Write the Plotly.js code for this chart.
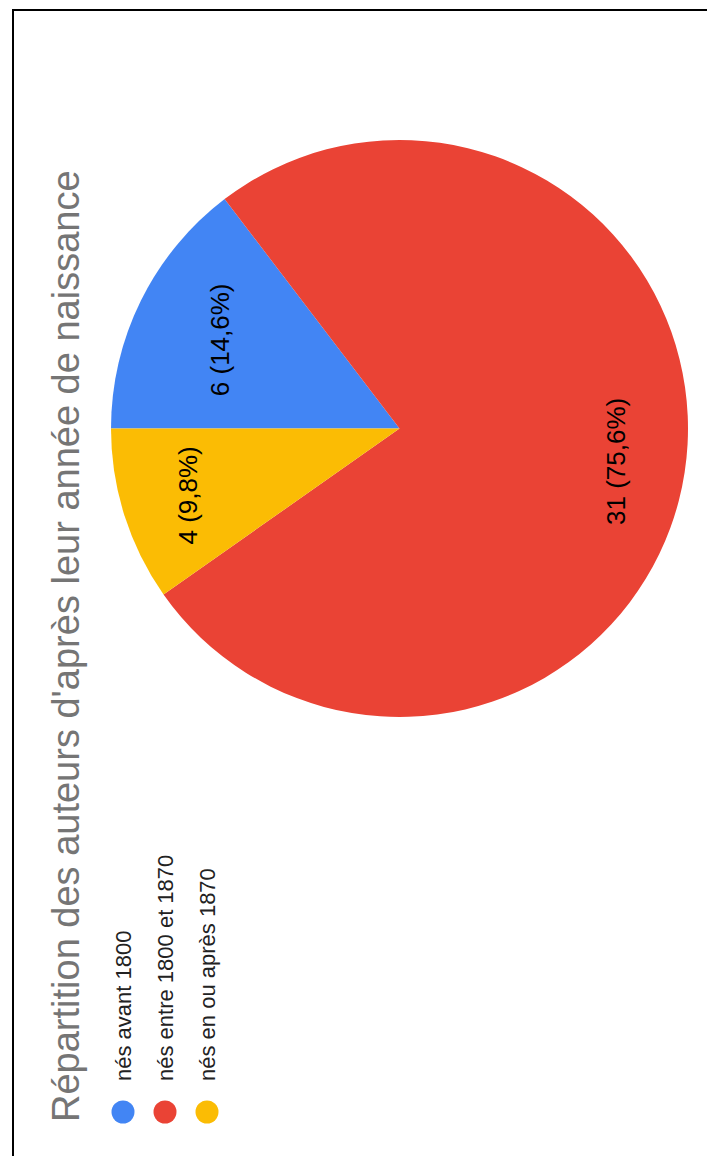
<!DOCTYPE html>
<html>
<head>
<meta charset="utf-8">
<script src="https://cdn.plot.ly/plotly-3.0.1.min.js"></script>
<style>
  html, body { margin: 0; padding: 0; background: #fff; width: 707px; height: 1156px; overflow: hidden; }
  #frame { position: absolute; left: 12px; top: 9px; width: 720px; height: 1170px;
           border-left: 2px solid #000; border-top: 2px solid #000; z-index: 5; pointer-events: none; }
  #chart { position: absolute; left: 0; top: 0; width: 1146px; height: 694px;
           transform-origin: 0 0; transform: translate(13px, 1156px) rotate(-90deg); }
</style>
</head>
<body>
<div id="frame"></div>
<div id="chart"></div>
<script>
// ---- data ----
const categories = ["nés avant 1800", "nés entre 1800 et 1870", "nés en ou après 1870"];
const counts = [6, 31, 4];
const colors = ["#4285F4", "#EA4335", "#FBBC04"];
const chartTitle = "Répartition des auteurs d'après leur année de naissance";

// ---- layout geometry (unrotated frame, pixels) ----
const W = 1146, H = 694;
const FONT = "Liberation Sans, Arial, sans-serif";
const cu = 727.5, cv = 386.5, R = 288.5;       // pie centre & radius
const legendU = 44, legendV0 = 110, legendStep = 42, legendR = 11.5, legendTextU = 73;
const labelRadius = 0.76;                       // Google-style label distance (fraction of radius)

// slices whose label is placed Google-style (mid-angle) instead of by Plotly's fitting
const customLabel = [false, true, false];

const total = counts.reduce((a, b) => a + b, 0);
const fmtPct = v => (100 * v / total).toFixed(1).replace(".", ",") + "%";

const pie = {
  type: "pie",
  labels: categories,
  values: counts,
  marker: { colors: colors, line: { width: 0 } },
  sort: false,
  direction: "clockwise",
  rotation: 0,
  texttemplate: "%{value} (%{percent:.1%})",
  textposition: customLabel.map(c => c ? "none" : "inside"),
  insidetextorientation: "horizontal",
  textfont: { family: FONT, size: 26, color: "#000" },
  hoverinfo: "none",
  showlegend: false,
  domain: {
    x: [(cu - R) / W, (cu + R) / W],
    y: [1 - (cv + R) / H, 1 - (cv - R) / H]
  }
};

const shapes = [], annotations = [];
categories.forEach((c, i) => {
  const v = legendV0 + i * legendStep;
  shapes.push({
    type: "circle", xref: "paper", yref: "paper",
    xsizemode: "pixel", ysizemode: "pixel",
    xanchor: legendU / W, yanchor: 1 - v / H,
    x0: -legendR, x1: legendR, y0: -legendR, y1: legendR,
    fillcolor: colors[i], line: { width: 0 }
  });
  annotations.push({
    xref: "paper", yref: "paper", x: legendTextU / W, y: 1 - v / H,
    xanchor: "left", yanchor: "middle", showarrow: false,
    text: c, font: { family: FONT, size: 22, color: "#222" }
  });
});

// Google-style labels at the slice mid-angle
let cum = 0;
counts.forEach((val, i) => {
  const mid = (cum + val / 2) / total * 2 * Math.PI;   // clockwise from 12 o'clock
  cum += val;
  if (!customLabel[i]) return;
  const u = cu + labelRadius * R * Math.sin(mid);
  const v = cv - labelRadius * R * Math.cos(mid);
  annotations.push({
    xref: "paper", yref: "paper", x: u / W, y: 1 - v / H,
    xanchor: "center", yanchor: "middle", showarrow: false,
    text: val + " (" + fmtPct(val) + ")",
    font: { family: FONT, size: 26, color: "#000" }
  });
});

const layout = {
  width: W, height: H,
  margin: { l: 0, r: 0, t: 0, b: 0 },
  paper_bgcolor: "#fff",
  separators: ", ",
  font: { family: FONT },
  title: {
    text: chartTitle,
    font: { family: FONT, size: 38, color: "#757575" },
    xref: "container", yref: "container",
    x: 34 / W, xanchor: "left",
    y: 1 - 53 / H, yanchor: "middle"
  },
  shapes: shapes,
  annotations: annotations
};

Plotly.newPlot("chart", [pie], layout, { staticPlot: true, displayModeBar: false });
</script>
</body>
</html>
